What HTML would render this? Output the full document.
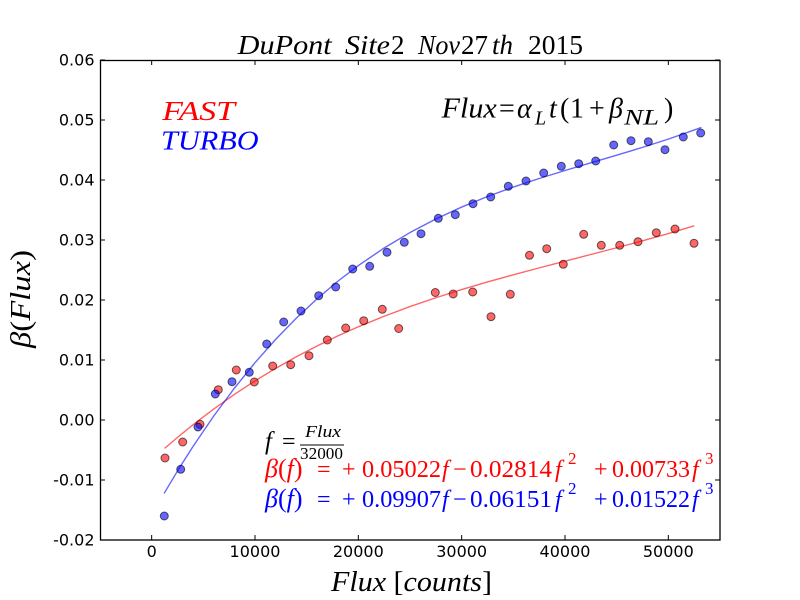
<!DOCTYPE html>
<html>
<head>
<meta charset="utf-8">
<style>
  html, body { margin: 0; padding: 0; background: #ffffff; }
  svg { display: block; }
  .tick { font-family: "DejaVu Sans", "Liberation Sans", sans-serif; font-size: 16px; fill: #000; }
  .m { font-family: "Liberation Serif", "DejaVu Serif", serif; }
  .i { font-style: italic; }
</style>
</head>
<body>
<svg width="800" height="600" viewBox="0 0 800 600" xmlns="http://www.w3.org/2000/svg">
  <rect x="0" y="0" width="800" height="600" fill="#ffffff"/>

  <!-- Title -->
  <g class="m" font-size="27" fill="#000">
    <text x="237.7" y="54" class="i" textLength="94" lengthAdjust="spacingAndGlyphs">DuPont</text>
    <text x="345" y="54" class="i" textLength="45" lengthAdjust="spacingAndGlyphs">Site</text>
    <text x="391" y="54">2</text>
    <text x="418" y="54" class="i" textLength="42" lengthAdjust="spacingAndGlyphs">Nov</text>
    <text x="461" y="54">27</text>
    <text x="492" y="54" class="i">th</text>
    <text x="528" y="54" textLength="55" lengthAdjust="spacingAndGlyphs">2015</text>
  </g>

  <!-- Fit curves -->
  <polyline fill="none" stroke="#ff0000" stroke-opacity="0.6" stroke-width="1.4" stroke-linejoin="round"
    points="164.58,448.38 178.53,436.51 193,424.79 213.67,409.05 234.33,394.44 255,380.88 275.67,368.33 296.33,356.71 317,345.95 337.67,336.0 358.33,326.79 384.17,316.22 410,306.57 435.83,297.73 461.67,289.57 487.5,281.95 513.33,274.77 539.17,267.88 565,261.16 590.83,254.50 616.67,247.75 642.5,240.80 668.33,233.52 694.17,225.79"/>
  <polyline fill="none" stroke="#0000ff" stroke-opacity="0.6" stroke-width="1.4" stroke-linejoin="round"
    points="164.07,493.44 178.53,469.31 193,446.51 213.67,416.14 234.33,388.25 255,362.72 275.67,339.40 296.33,318.15 317,298.86 337.67,281.38 358.33,265.58 384.17,247.98 410,232.54 435.83,219.00 461.67,207.07 487.5,196.53 513.33,187.09 539.17,178.49 565,170.49 590.83,162.81 616.67,155.19 642.5,147.38 668.33,139.11 701.4,127.43"/>

  <!-- FAST points -->
  <g fill="#ff0000" fill-opacity="0.6" stroke="#000" stroke-opacity="0.6" stroke-width="1">
    <circle cx="165" cy="458" r="4"/>
    <circle cx="182.7" cy="442" r="4"/>
    <circle cx="200" cy="424.3" r="4"/>
    <circle cx="218.3" cy="389.7" r="4"/>
    <circle cx="236.3" cy="370" r="4"/>
    <circle cx="254.3" cy="382" r="4"/>
    <circle cx="272.7" cy="366" r="4"/>
    <circle cx="290.7" cy="364.7" r="4"/>
    <circle cx="309" cy="355.7" r="4"/>
    <circle cx="327.3" cy="340" r="4"/>
    <circle cx="345.7" cy="328" r="4"/>
    <circle cx="363.7" cy="320.7" r="4"/>
    <circle cx="382.3" cy="309.3" r="4"/>
    <circle cx="398.7" cy="328.5" r="4"/>
    <circle cx="435.3" cy="292.5" r="4"/>
    <circle cx="453.2" cy="294" r="4"/>
    <circle cx="472.7" cy="292" r="4"/>
    <circle cx="491" cy="316.7" r="4"/>
    <circle cx="510.3" cy="294.3" r="4"/>
    <circle cx="529.5" cy="255.3" r="4"/>
    <circle cx="546.7" cy="248.7" r="4"/>
    <circle cx="563.3" cy="264.3" r="4"/>
    <circle cx="583.7" cy="234.3" r="4"/>
    <circle cx="601.3" cy="245.3" r="4"/>
    <circle cx="619.7" cy="245.3" r="4"/>
    <circle cx="638" cy="241.7" r="4"/>
    <circle cx="656.3" cy="232.7" r="4"/>
    <circle cx="675" cy="229" r="4"/>
    <circle cx="694" cy="243.3" r="4"/>
  </g>

  <!-- TURBO points -->
  <g fill="#0000ff" fill-opacity="0.6" stroke="#000" stroke-opacity="0.6" stroke-width="1">
    <circle cx="164.3" cy="516" r="4"/>
    <circle cx="180.7" cy="469.3" r="4"/>
    <circle cx="198" cy="427" r="4"/>
    <circle cx="215.3" cy="394" r="4"/>
    <circle cx="232" cy="381.7" r="4"/>
    <circle cx="249.3" cy="372.3" r="4"/>
    <circle cx="266.7" cy="344" r="4"/>
    <circle cx="283.7" cy="322" r="4"/>
    <circle cx="301" cy="311" r="4"/>
    <circle cx="318.7" cy="295.7" r="4"/>
    <circle cx="335.7" cy="287" r="4"/>
    <circle cx="352.7" cy="269" r="4"/>
    <circle cx="369.7" cy="266.3" r="4"/>
    <circle cx="387" cy="252.3" r="4"/>
    <circle cx="404.3" cy="242.3" r="4"/>
    <circle cx="421" cy="233.7" r="4"/>
    <circle cx="438.3" cy="218.3" r="4"/>
    <circle cx="455.3" cy="214.7" r="4"/>
    <circle cx="473" cy="203.7" r="4"/>
    <circle cx="490.7" cy="197" r="4"/>
    <circle cx="508.3" cy="186.3" r="4"/>
    <circle cx="526" cy="181" r="4"/>
    <circle cx="543.7" cy="173" r="4"/>
    <circle cx="561.3" cy="166.3" r="4"/>
    <circle cx="578.7" cy="163.7" r="4"/>
    <circle cx="595.7" cy="161" r="4"/>
    <circle cx="613.7" cy="145" r="4"/>
    <circle cx="631" cy="140.7" r="4"/>
    <circle cx="648.3" cy="141.7" r="4"/>
    <circle cx="665" cy="149.7" r="4"/>
    <circle cx="683.3" cy="137" r="4"/>
    <circle cx="700.7" cy="133" r="4"/>
  </g>

  <!-- Axes frame -->
  <rect x="100.5" y="60.5" width="619.5" height="479.5" fill="none" stroke="#000" stroke-width="1.3"/>

  <!-- Ticks -->
  <g stroke="#000" stroke-width="1">
    <path d="M151.67,540 v-5 M255,540 v-5 M358.33,540 v-5 M461.67,540 v-5 M565,540 v-5 M668.33,540 v-5"/>
    <path d="M151.67,60 v5 M255,60 v5 M358.33,60 v5 M461.67,60 v5 M565,60 v5 M668.33,60 v5"/>
    <path d="M100,60 h5 M100,120 h5 M100,180 h5 M100,240 h5 M100,300 h5 M100,360 h5 M100,420 h5 M100,480 h5 M100,540 h5"/>
    <path d="M720,60 h-5 M720,120 h-5 M720,180 h-5 M720,240 h-5 M720,300 h-5 M720,360 h-5 M720,420 h-5 M720,480 h-5 M720,540 h-5"/>
  </g>

  <!-- Y tick labels -->
  <g class="tick" text-anchor="end">
    <text x="94.5" y="65.5">0.06</text>
    <text x="94.5" y="125.5">0.05</text>
    <text x="94.5" y="185.5">0.04</text>
    <text x="94.5" y="245.5">0.03</text>
    <text x="94.5" y="305.5">0.02</text>
    <text x="94.5" y="365.5">0.01</text>
    <text x="94.5" y="425.5">0.00</text>
    <text x="94.5" y="485.5">-0.01</text>
    <text x="94.5" y="545.5">-0.02</text>
  </g>

  <!-- X tick labels -->
  <g class="tick" text-anchor="middle">
    <text x="151.67" y="557">0</text>
    <text x="255" y="557">10000</text>
    <text x="358.33" y="557">20000</text>
    <text x="461.67" y="557">30000</text>
    <text x="565" y="557">40000</text>
    <text x="668.33" y="557">50000</text>
  </g>

  <!-- X label -->
  <text class="m" x="331" y="591" font-size="28" fill="#000" textLength="161" lengthAdjust="spacingAndGlyphs"><tspan class="i">Flux</tspan> [<tspan class="i">counts</tspan>]</text>

  <!-- Y label -->
  <text class="m" transform="translate(30,299) rotate(-90)" text-anchor="middle" font-size="28" fill="#000" textLength="98" lengthAdjust="spacingAndGlyphs"><tspan class="i">β</tspan>(<tspan class="i">Flux</tspan>)</text>

  <!-- FAST / TURBO labels -->
  <text class="m i" x="162.3" y="120" font-size="27" fill="#ff0000" textLength="72.7" lengthAdjust="spacingAndGlyphs">FAST</text>
  <text class="m i" x="161" y="149.3" font-size="27" fill="#0000ff" textLength="97.7" lengthAdjust="spacingAndGlyphs">TURBO</text>

  <!-- Flux = alpha_L t (1 + beta_NL) -->
  <g class="m" fill="#000" font-size="28">
    <text x="441.7" y="117.5" class="i" textLength="55" lengthAdjust="spacingAndGlyphs">Flux</text>
    <text x="499" y="117.5">=</text>
    <text x="517" y="117.5" class="i">α</text>
    <text x="535" y="124.5" class="i" font-size="20">L</text>
    <text x="549" y="117.5" class="i">t</text>
    <text x="560" y="117.5">(</text>
    <text x="570" y="117.5">1</text>
    <text x="589" y="117.5">+</text>
    <text x="609" y="117.5" class="i">β</text>
    <text x="624" y="124.5" class="i" font-size="22" textLength="35" lengthAdjust="spacingAndGlyphs">NL</text>
    <text x="664" y="117.5">)</text>
  </g>

  <!-- f = Flux / 32000 -->
  <g class="m" fill="#000">
    <text x="265" y="449" class="i" font-size="25">f</text>
    <text x="282" y="449" font-size="24">=</text>
    <line x1="300" y1="445" x2="344" y2="445" stroke="#000" stroke-width="1"/>
    <text x="305" y="437" class="i" font-size="17" textLength="36" lengthAdjust="spacingAndGlyphs">Flux</text>
    <text x="300" y="459" font-size="17" textLength="43" lengthAdjust="spacingAndGlyphs">32000</text>
  </g>

  <!-- Red equation -->
  <g class="m" fill="#ff0000" font-size="24">
    <text x="265" y="477" font-size="26"><tspan class="i">β</tspan>(<tspan class="i">f</tspan>)</text>
    <text x="317" y="477">=</text>
    <text x="342" y="477">+</text>
    <text x="362" y="477" textLength="79" lengthAdjust="spacingAndGlyphs">0.05022</text>
    <text x="442" y="477" class="i">f</text>
    <text x="453" y="477">−</text>
    <text x="470" y="477" textLength="82" lengthAdjust="spacingAndGlyphs">0.02814</text>
    <text x="555" y="477" class="i">f</text>
    <text x="568" y="464" font-size="17">2</text>
    <text x="594" y="477">+</text>
    <text x="612" y="477" textLength="78" lengthAdjust="spacingAndGlyphs">0.00733</text>
    <text x="692" y="477" class="i">f</text>
    <text x="705" y="464" font-size="17">3</text>
  </g>

  <!-- Blue equation -->
  <g class="m" fill="#0000ff" font-size="24">
    <text x="265" y="507" font-size="26"><tspan class="i">β</tspan>(<tspan class="i">f</tspan>)</text>
    <text x="317" y="507">=</text>
    <text x="342" y="507">+</text>
    <text x="362" y="507" textLength="79" lengthAdjust="spacingAndGlyphs">0.09907</text>
    <text x="442" y="507" class="i">f</text>
    <text x="453" y="507">−</text>
    <text x="470" y="507" textLength="82" lengthAdjust="spacingAndGlyphs">0.06151</text>
    <text x="555" y="507" class="i">f</text>
    <text x="568" y="494" font-size="17">2</text>
    <text x="594" y="507">+</text>
    <text x="612" y="507" textLength="78" lengthAdjust="spacingAndGlyphs">0.01522</text>
    <text x="692" y="507" class="i">f</text>
    <text x="705" y="494" font-size="17">3</text>
  </g>
</svg>
</body>
</html>
